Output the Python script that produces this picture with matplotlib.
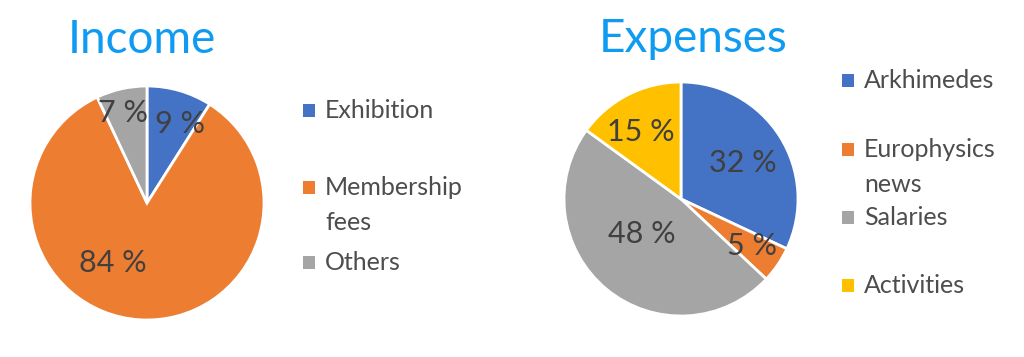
import numpy as np
import matplotlib.pyplot as plt
from matplotlib.patches import Rectangle

plt.rcParams['font.family'] = ['Lato', 'DejaVu Sans']

income_labels = ['Exhibition', 'Membership\nfees', 'Others']
income_values = [9, 84, 7]
expense_labels = ['Arkhimedes', 'Europhysics\nnews', 'Salaries', 'Activities']
expense_values = [32, 5, 48, 15]

income_colors = ['#4472C4', '#ED7D31', '#A5A5A5']
expense_colors = ['#4472C4', '#ED7D31', '#A5A5A5', '#FFC000']

W, H = 1024, 357
fig = plt.figure(figsize=(W / 100, H / 100), dpi=100)


def px_axes(cx, cy, r):
    return fig.add_axes([(cx - r) / W, (H - cy - r) / H, 2 * r / W, 2 * r / H])


def draw_pie(ax, values, colors, label_pos):
    wedges, _ = ax.pie(values, colors=colors, startangle=90, counterclock=False,
                       wedgeprops=dict(edgecolor='white', linewidth=2))
    for v, (r, ang) in zip(values, label_pos):
        a = np.deg2rad(ang)
        ax.text(r * np.cos(a), r * np.sin(a), f'{v} %', ha='center', va='center',
                fontsize=22, color='#404040')
    ax.set_xlim(-1, 1)
    ax.set_ylim(-1, 1)
    ax.set_aspect('equal')
    ax.axis('off')
    return wedges


def draw_legend(wedges, labels, x_box, baselines, line_gap=35):
    for w, lab, yb in zip(wedges, labels, baselines):
        fig.patches.append(Rectangle((x_box / W, (H - yb + 1) / H), 12 / W, 13 / H,
                                     transform=fig.transFigure,
                                     facecolor=w.get_facecolor(), edgecolor='none'))
        for i, line in enumerate(lab.split('\n')):
            fig.text((x_box + 22) / W, (H - yb - i * line_gap) / H, line,
                     ha='left', va='baseline', fontsize=18, color='#4d4d4d')


ax1 = px_axes(147, 203, 117)
w1 = draw_pie(ax1, income_values, income_colors,
              [(0.73, 67), (0.59, 240), (0.80, 105)])
ax2 = px_axes(681, 199, 117)
w2 = draw_pie(ax2, expense_values, expense_colors,
              [(0.61, 30.5), (0.73, -33.5), (0.45, 222), (0.67, 121)])

fig.text(142 / W, (H - 53) / H, 'Income', ha='center', va='baseline',
         fontsize=33, color='#0F9BF2')
fig.text(693 / W, (H - 52) / H, 'Expenses', ha='center', va='baseline',
         fontsize=33, color='#0F9BF2')

draw_legend(w1, income_labels, 303, [118, 195, 270])
draw_legend(w2, expense_labels, 842, [88, 157, 225, 293])

fig.savefig('out.png', dpi=100)
